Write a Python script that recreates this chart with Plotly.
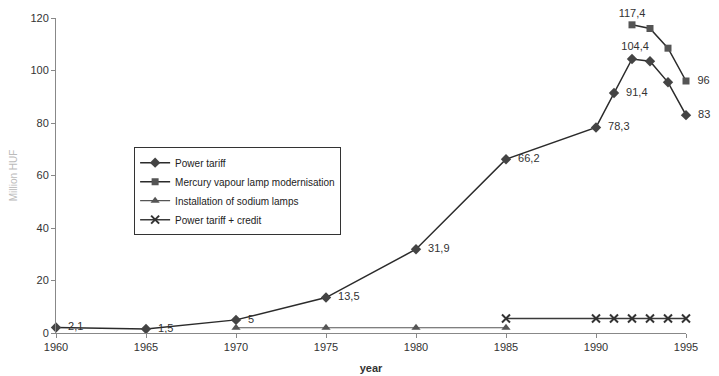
import plotly.graph_objects as go

# Street-lighting costs, million HUF
years_tariff = [1960, 1965, 1970, 1975, 1980, 1985, 1990, 1991, 1992, 1993, 1994, 1995]
power_tariff = [2.1, 1.5, 5, 13.5, 31.9, 66.2, 78.3, 91.4, 104.4, 103.5, 95.5, 83]
tariff_labelled = [True, True, True, True, True, True, True, True, True, False, False, True]

years_mercury = [1992, 1993, 1994, 1995]
mercury_modern = [117.4, 116, 108.5, 96]
mercury_labelled = [True, False, False, True]

years_sodium = [1970, 1975, 1980, 1985]
sodium_install = [2, 2, 2, 2]

years_credit = [1985, 1990, 1991, 1992, 1993, 1994, 1995]
tariff_credit = [5.5, 5.5, 5.5, 5.5, 5.5, 5.5, 5.5]

x_ticks = [1960, 1965, 1970, 1975, 1980, 1985, 1990, 1995]
y_ticks = [0, 20, 40, 60, 80, 100, 120]


def fmt(v):
    s = f"{v:g}"
    return s.replace(".", ",")


def labels(vals, flags):
    return [fmt(v) if f else "" for v, f in zip(vals, flags)]


FONT = "Liberation Sans, Arial, sans-serif"

tariff_pos = ["middle right"] * len(power_tariff)
tariff_pos[8] = "top center"
mercury_pos = ["top center", "middle right", "middle right", "middle right"]

fig = go.Figure()

fig.add_trace(go.Scatter(
    x=years_tariff, y=power_tariff, name="Power tariff",
    mode="lines+markers+text",
    line=dict(color="#2b2b2b", width=1.5),
    marker=dict(symbol="diamond", size=8, color="#444444"),
    text=["  " + t if t else "" for t in labels(power_tariff, tariff_labelled)],
    textposition=tariff_pos,
    textfont=dict(family=FONT, size=11, color="#333333"),
    cliponaxis=False,
))

fig.add_trace(go.Scatter(
    x=years_mercury, y=mercury_modern, name="Mercury vapour lamp modernisation",
    mode="lines+markers+text",
    line=dict(color="#2b2b2b", width=1.5),
    marker=dict(symbol="square", size=7, color="#555555"),
    text=[("  " + t if i else t) if t else "" for i, t in
          enumerate(labels(mercury_modern, mercury_labelled))],
    textposition=mercury_pos,
    textfont=dict(family=FONT, size=11, color="#333333"),
    cliponaxis=False,
))

fig.add_trace(go.Scatter(
    x=years_sodium, y=sodium_install, name="Installation of sodium lamps",
    mode="lines+markers",
    line=dict(color="#555555", width=1.2),
    marker=dict(symbol="triangle-up", size=8, color="#555555"),
    cliponaxis=False,
))

fig.add_trace(go.Scatter(
    x=years_credit, y=tariff_credit, name="Power tariff + credit",
    mode="lines+markers",
    line=dict(color="#3a3a3a", width=1.5),
    marker=dict(symbol="x-thin", size=8, color="#333333",
                line=dict(width=2, color="#333333")),
    cliponaxis=False,
))

fig.update_layout(
    width=719, height=376,
    margin=dict(l=56, r=33, t=18, b=43, autoexpand=False),
    paper_bgcolor="white",
    plot_bgcolor="white",
    font=dict(family=FONT, size=11, color="#333333"),
    showlegend=True,
    legend=dict(
        x=0.124, y=0.59, xanchor="left", yanchor="top",
        bordercolor="#333333", borderwidth=1, bgcolor="white",
        font=dict(family=FONT, size=10, color="#222222"),
        tracegroupgap=0, itemwidth=30,
    ),
    xaxis=dict(
        range=[1960, 1995], tickvals=x_ticks,
        showgrid=False, zeroline=False, automargin=False,
        showline=True, linecolor="#888888", linewidth=1,
        ticks="outside", ticklen=4, tickcolor="#888888",
        tickfont=dict(family=FONT, size=11, color="#333333"),
        title=dict(text="<b>year</b>", font=dict(family=FONT, size=11, color="#333333"), standoff=12),
    ),
    yaxis=dict(
        range=[0, 120], tickvals=y_ticks,
        showgrid=False, zeroline=False, automargin=False,
        showline=True, linecolor="#888888", linewidth=1,
        ticks="outside", ticklen=4, tickcolor="#888888",
        tickfont=dict(family=FONT, size=11, color="#333333"),
        title=dict(text="Million HUF", font=dict(family=FONT, size=10, color="#bbbbbb"), standoff=10),
    ),
)

fig.write_html("out.html")
